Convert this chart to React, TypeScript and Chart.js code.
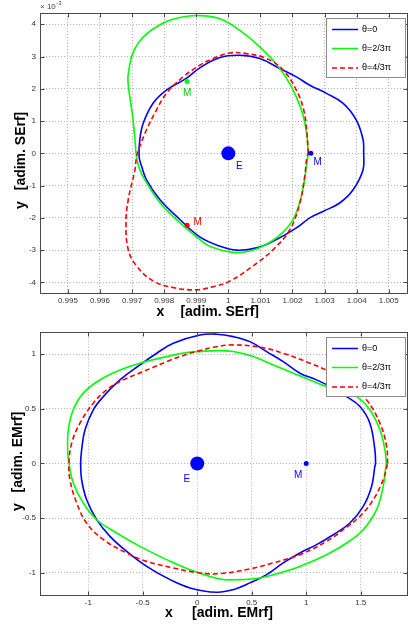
import React, { useEffect, useRef } from "react";
import { Chart, registerables } from "chart.js";
Chart.register(...registerables);

const FONT = "'Liberation Sans', Arial, Helvetica, sans-serif";
Chart.defaults.font.family = FONT;

// ---------- Top chart: Sun-Earth rotating frame (y in units of 1e-3) ----------
const topXTicks = [0.995, 0.996, 0.997, 0.998, 0.999, 1, 1.001, 1.002, 1.003, 1.004, 1.005];
const topYTicks = [-4, -3, -2, -1, 0, 1, 2, 3, 4];

const topBlueX = [1.00422, 1.0042, 1.00399, 1.00358, 1.00306, 1.00254, 1.00212, 1.0016, 1.00098, 1.00036, 0.99974, 0.99911, 0.9987, 0.99807, 0.99766, 0.99735, 0.99724, 0.99722, 0.9973, 0.99745, 0.99787, 0.99849, 0.99911, 0.99974, 1.00026, 1.00088, 1.0015, 1.00212, 1.00254, 1.00295, 1.00347, 1.00389, 1.0042];
const topBlueY = [0, 0.42, 1.03, 1.55, 1.86, 2.11, 2.37, 2.63, 2.94, 3.04, 2.97, 2.65, 2.33, 1.96, 1.56, 0.94, 0.42, -0.11, -0.41, -0.82, -1.44, -2.05, -2.59, -2.88, -3.0, -2.93, -2.67, -2.31, -2.0, -1.8, -1.54, -1.13, -0.51];

const topGreenX = [1.00249, 1.00244, 1.00228, 1.00197, 1.0016, 1.00098, 1.00036, 0.99974, 0.99911, 0.99849, 0.99796, 0.99734, 0.99702, 0.9969, 0.99687, 0.99693, 0.99702, 0.99709, 0.99714, 0.99724, 0.99745, 0.99787, 0.99849, 0.99911, 0.99942, 1.00014, 1.00067, 1.00119, 1.0017, 1.00207, 1.00232, 1.00245];
const topGreenY = [0, 0.63, 1.34, 2.06, 2.64, 3.3, 3.81, 4.17, 4.27, 4.21, 4.03, 3.6, 3.1, 2.58, 2.27, 1.74, 1.13, 0.42, -0.11, -0.51, -0.91, -1.53, -2.15, -2.67, -2.88, -3.07, -3.03, -2.82, -2.45, -1.95, -1.13, -0.29];

const topRedX = [1.00249, 1.00245, 1.00235, 1.00212, 1.00171, 1.00119, 1.00057, 1.00005, 0.99953, 0.99911, 0.99859, 0.99807, 0.99776, 0.99745, 0.99724, 0.99714, 0.99709, 0.99688, 0.99681, 0.99688, 0.99714, 0.99766, 0.99828, 0.99901, 0.99958, 1.00005, 1.00077, 1.0014, 1.00192, 1.00223, 1.00238, 1.00245];
const topRedY = [0, 0.62, 1.34, 1.96, 2.58, 2.94, 3.09, 3.11, 2.94, 2.73, 2.37, 1.86, 1.34, 0.73, 0.21, -0.1, -0.51, -1.44, -2.15, -2.98, -3.49, -3.96, -4.16, -4.23, -4.12, -3.96, -3.49, -2.98, -2.36, -1.54, -0.72, -0.1];

const topEarth = { x: 1, y: 0 };
const topMoonBlue = { x: 1.00257, y: 0 };
const topMoonGreen = { x: 0.998715, y: 2.226 };
const topMoonRed = { x: 0.998715, y: -2.226 };

// ---------- Bottom chart: Earth-Moon rotating frame ----------
const botXTicks = [-1, -0.5, 0, 0.5, 1, 1.5];
const botYTicks = [-1, -0.5, 0, 0.5, 1];

const botBlueX = [1.637, 1.63, 1.584, 1.493, 1.371, 1.248, 1.095, 0.942, 0.789, 0.637, 0.483, 0.33, 0.178, 0.025, -0.22, -0.372, -0.526, -0.709, -0.862, -0.954, -1.03, -1.061, -1.07, -1.061, -1.015, -0.923, -0.801, -0.648, -0.464, -0.25, -0.067, 0.178, 0.33, 0.483, 0.637, 0.789, 0.942, 1.095, 1.248, 1.401, 1.523, 1.6, 1.63];
const botBlueY = [0, 0.125, 0.369, 0.521, 0.612, 0.689, 0.765, 0.826, 0.932, 1.024, 1.115, 1.161, 1.183, 1.176, 1.101, 1.009, 0.902, 0.765, 0.612, 0.491, 0.308, 0.125, 0, -0.149, -0.332, -0.514, -0.667, -0.804, -0.942, -1.063, -1.139, -1.179, -1.155, -1.093, -1.017, -0.91, -0.819, -0.743, -0.652, -0.545, -0.393, -0.21, -0.027];

const botGreenX = [1.736, 1.722, 1.676, 1.584, 1.462, 1.309, 1.187, 1.034, 0.881, 0.697, 0.514, 0.33, 0.178, 0.025, -0.097, -0.281, -0.526, -0.709, -0.893, -1.046, -1.138, -1.183, -1.189, -1.177, -1.138, -1.046, -0.923, -0.739, -0.526, -0.281, -0.067, 0.208, 0.392, 0.575, 0.758, 0.942, 1.187, 1.371, 1.523, 1.646, 1.706, 1.731];
const botGreenY = [0, 0.125, 0.308, 0.491, 0.612, 0.674, 0.704, 0.765, 0.826, 0.902, 0.978, 1.024, 1.033, 1.024, 1.015, 0.978, 0.918, 0.856, 0.765, 0.644, 0.491, 0.308, 0.125, 0, -0.179, -0.362, -0.515, -0.636, -0.759, -0.88, -0.972, -1.057, -1.063, -1.048, -1.002, -0.942, -0.835, -0.728, -0.606, -0.423, -0.21, -0.027];

const botRedX = [1.747, 1.738, 1.676, 1.554, 1.371, 1.217, 1.034, 0.789, 0.575, 0.33, 0.147, 0.025, -0.067, -0.281, -0.495, -0.679, -0.831, -0.954, -1.076, -1.152, -1.177, -1.168, -1.106, -1.015, -0.862, -0.648, -0.464, -0.22, 0.025, 0.208, 0.483, 0.697, 0.942, 1.187, 1.339, 1.493, 1.615, 1.706];
const botRedY = [0, 0.155, 0.369, 0.582, 0.765, 0.841, 0.918, 1.009, 1.064, 1.085, 1.064, 1.033, 1.009, 0.932, 0.841, 0.765, 0.674, 0.552, 0.369, 0.186, 0.004, -0.149, -0.362, -0.545, -0.697, -0.819, -0.896, -0.956, -1.002, -1.008, -0.965, -0.91, -0.835, -0.713, -0.606, -0.484, -0.332, -0.149];

const botEarth = { x: 0, y: 0 };
const botMoon = { x: 1, y: 0 };

const legendLabels = ["θ=0", "θ=2/3π", "θ=4/3π"];
const BLUE = "#0000ff";
const GREEN = "#00ff00";
const RED = "#ff0000";

function loop(xs: number[], ys: number[]) {
  const pts = xs.map((x, i) => ({ x, y: ys[i] }));
  pts.push(pts[0]);
  return pts;
}

type Note = { text: string; x: number; y: number; dx: number; dy: number; color: string };
type Cfg = {
  notes: Note[];
  xTitle: [string, number, number][];
  yTitle: [string, number, number][];
  exponent: boolean;
};

function decorPlugin(cfg: Cfg) {
  return {
    id: "decor",
    afterDatasetsDraw(chart: any) {
      const { ctx, chartArea: a, scales } = chart;
      const xs = scales.x;
      const ys = scales.y;
      ctx.save();
      ctx.strokeStyle = "#4a4a4a";
      ctx.lineWidth = 1;
      ctx.setLineDash([]);
      const L = Math.round(a.left) + 0.5;
      const T = Math.round(a.top) + 0.5;
      const R = Math.round(a.right) - 0.5;
      const B = Math.round(a.bottom) - 0.5;
      ctx.strokeRect(L, T, R - L, B - T);
      ctx.beginPath();
      xs.ticks.forEach((t: any) => {
        const p = Math.round(xs.getPixelForValue(t.value)) + 0.5;
        ctx.moveTo(p, B); ctx.lineTo(p, B - 4);
        ctx.moveTo(p, T); ctx.lineTo(p, T + 4);
      });
      ys.ticks.forEach((t: any) => {
        const p = Math.round(ys.getPixelForValue(t.value)) + 0.5;
        ctx.moveTo(L, p); ctx.lineTo(L + 4, p);
        ctx.moveTo(R, p); ctx.lineTo(R - 4, p);
      });
      ctx.stroke();
      ctx.font = `10px ${FONT}`;
      ctx.textAlign = "center";
      ctx.textBaseline = "middle";
      cfg.notes.forEach((n) => {
        ctx.fillStyle = n.color;
        ctx.fillText(n.text, xs.getPixelForValue(n.x) + n.dx, ys.getPixelForValue(n.y) + n.dy);
      });
      const bx = Math.round(a.right) - 81.5;
      const by = Math.round(a.top) + 5.5;
      ctx.fillStyle = "#ffffff";
      ctx.fillRect(bx, by, 79, 59);
      ctx.strokeStyle = "#8c8c8c";
      ctx.strokeRect(bx, by, 79, 59);
      const cols = [BLUE, GREEN, RED];
      const rows = [11, 30, 49.5];
      ctx.font = `9px ${FONT}`;
      ctx.textAlign = "left";
      rows.forEach((r, i) => {
        const yy = by + r;
        ctx.strokeStyle = cols[i];
        ctx.lineWidth = 1.5;
        ctx.setLineDash(i === 2 ? [5, 3] : []);
        ctx.beginPath();
        ctx.moveTo(bx + 5.5, yy);
        ctx.lineTo(bx + 31.5, yy);
        ctx.stroke();
        ctx.fillStyle = "#000";
        ctx.fillText(legendLabels[i], bx + 35.5, yy);
      });
      ctx.setLineDash([]);
      ctx.fillStyle = "#000";
      ctx.font = `bold 14px ${FONT}`;
      ctx.textAlign = "center";
      cfg.xTitle.forEach(([t, dx, dy]) => {
        ctx.fillText(t, a.left + dx, a.bottom + dy);
      });
      cfg.yTitle.forEach(([t, x, y]) => {
        ctx.save();
        ctx.translate(x, y);
        ctx.rotate(-Math.PI / 2);
        ctx.fillText(t, 0, 0);
        ctx.restore();
      });
      if (cfg.exponent) {
        ctx.fillStyle = "#444";
        ctx.font = `8px ${FONT}`;
        ctx.textAlign = "left";
        ctx.textBaseline = "alphabetic";
        ctx.fillText("× 10", a.left, a.top - 4);
        const w = ctx.measureText("× 10").width;
        ctx.font = `6px ${FONT}`;
        ctx.fillText("-3", a.left + w + 0.5, a.top - 8);
      }
      ctx.restore();
    },
  };
}

function axis(min: number, max: number, ticks: number[], fmt: (v: number) => string, size: number, isX: boolean) {
  return {
    type: "linear",
    min,
    max,
    afterBuildTicks: (s: any) => {
      s.ticks = ticks.map((v) => ({ value: v }));
    },
    afterFit: (s: any) => {
      if (isX) s.height = size;
      else s.width = size;
      s.paddingLeft = 0;
      s.paddingRight = 0;
      s.paddingTop = 0;
      s.paddingBottom = 0;
    },
    ticks: {
      callback: (v: any) => fmt(Number(v)),
      font: { size: 8, family: FONT },
      color: "#333",
      padding: isX ? 2 : 4,
      autoSkip: false,
      maxRotation: 0,
      minRotation: 0,
    },
    grid: { color: "#b4b4b4", lineWidth: 1, drawTicks: false },
    border: { display: false, dash: [1, 2] },
  };
}

function curve(label: string, pts: any[], color: string, dashed: boolean, order: number) {
  return {
    label,
    data: pts,
    showLine: true,
    borderColor: color,
    backgroundColor: color,
    borderWidth: 1.6,
    borderDash: dashed ? [5, 3] : [],
    pointRadius: 0,
    pointHoverRadius: 0,
    tension: 0.4,
    fill: false,
    order,
  };
}

function dot(p: { x: number; y: number }, color: string, r: number) {
  return {
    label: "",
    data: [p],
    showLine: false,
    pointRadius: r,
    pointBackgroundColor: color,
    pointBorderWidth: 0,
    borderWidth: 0,
    order: 0,
  };
}

function ChartBox(props: { height: number; build: () => any }) {
  const ref = useRef<HTMLCanvasElement | null>(null);
  useEffect(() => {
    if (!ref.current) return;
    const chart = new Chart(ref.current, props.build());
    return () => chart.destroy();
  }, []);
  return (
    <div style={{ width: 410, height: props.height, position: "relative" }}>
      <canvas ref={ref} width={410} height={props.height} style={{ display: "block" }} />
    </div>
  );
}

function buildTop() {
  return {
    type: "scatter",
    data: {
      datasets: [
        dot(topEarth, BLUE, 7),
        dot(topMoonBlue, BLUE, 2.5),
        dot(topMoonGreen, GREEN, 2.5),
        dot(topMoonRed, RED, 2.5),
        curve(legendLabels[2], loop(topRedX, topRedY), RED, true, 1),
        curve(legendLabels[1], loop(topGreenX, topGreenY), GREEN, false, 2),
        curve(legendLabels[0], loop(topBlueX, topBlueY), BLUE, false, 3),
      ],
    },
    options: {
      responsive: false,
      maintainAspectRatio: false,
      animation: false,
      layout: { autoPadding: false, padding: { top: 13, right: 2, left: 0, bottom: 0 } },
      plugins: { legend: { display: false }, tooltip: { enabled: false } },
      scales: {
        x: axis(0.99413, 1.0056, topXTicks, (v) => String(+v.toFixed(3)), 24, true),
        y: axis(-4.36, 4.35, topYTicks, (v) => String(Math.round(v)), 40, false),
      },
    },
    plugins: [
      decorPlugin({
        notes: [
          { text: "E", x: topEarth.x, y: topEarth.y, dx: 11, dy: 12.5, color: BLUE },
          { text: "M", x: topMoonBlue.x, y: topMoonBlue.y, dx: 7, dy: 8.5, color: BLUE },
          { text: "M", x: topMoonGreen.x, y: topMoonGreen.y, dx: 0, dy: 11.5, color: "#00cc00" },
          { text: "M", x: topMoonRed.x, y: topMoonRed.y, dx: 10.5, dy: -3, color: RED },
        ],
        xTitle: [["x", 120.5, 17.7], ["[adim. SErf]", 179.7, 17.7]],
        yTitle: [["y", 21, 205], ["[adim. SErf]", 21, 151]],
        exponent: true,
      }),
    ],
  };
}

function buildBottom() {
  return {
    type: "scatter",
    data: {
      datasets: [
        dot(botEarth, BLUE, 7),
        dot(botMoon, BLUE, 2.5),
        curve(legendLabels[2], loop(botRedX, botRedY), RED, true, 1),
        curve(legendLabels[1], loop(botGreenX, botGreenY), GREEN, false, 2),
        curve(legendLabels[0], loop(botBlueX, botBlueY), BLUE, false, 3),
      ],
    },
    options: {
      responsive: false,
      maintainAspectRatio: false,
      animation: false,
      layout: { autoPadding: false, padding: { top: 13.7, right: 2, left: 0, bottom: 0 } },
      plugins: { legend: { display: false }, tooltip: { enabled: false } },
      scales: {
        x: axis(-1.443, 1.934, botXTicks, (v) => String(v), 30, true),
        y: axis(-1.213, 1.206, botYTicks, (v) => String(v), 40, false),
      },
    },
    plugins: [
      decorPlugin({
        notes: [
          { text: "E", x: botEarth.x, y: botEarth.y, dx: -10.3, dy: 15.3, color: BLUE },
          { text: "M", x: botMoon.x, y: botMoon.y, dx: -8, dy: 11.6, color: BLUE },
        ],
        xTitle: [["x", 129, 17], ["[adim. EMrf]", 192.5, 17]],
        yTitle: [["y", 18, 189], ["[adim. EMrf]", 18, 134]],
        exponent: false,
      }),
    ],
  };
}

export default function App() {
  return (
    <div style={{ position: "absolute", left: 0, top: 0, width: 410, height: 626, background: "#fff" }}>
      <ChartBox height={318} build={buildTop} />
      <ChartBox height={308} build={buildBottom} />
    </div>
  );
}
